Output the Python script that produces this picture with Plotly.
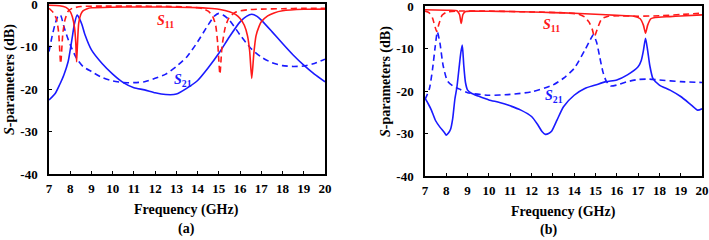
import plotly.graph_objects as go

# ---------------- Data (a) ----------------
a_s21_solid_f = [7.0, 7.3, 7.5, 7.7, 7.9, 8.0, 8.1, 8.2, 8.33, 8.45, 8.55, 8.7, 9.0, 9.5, 10.0, 10.5, 11.0, 11.5, 12.0, 12.5, 13.0, 13.5, 14.0, 14.5, 15.0, 15.5, 16.0, 16.3, 16.55, 16.8, 17.0, 17.5, 18.0, 18.5, 19.0, 19.5, 20.0]
a_s21_solid_db = [-22.6, -21.0, -19.0, -16.7, -13.6, -10.8, -7.7, -4.6, -2.6, -3.6, -4.8, -7.3, -10.8, -14.0, -16.5, -18.5, -19.7, -20.2, -20.9, -21.3, -21.2, -19.8, -18.0, -15.0, -11.6, -7.7, -4.2, -2.9, -2.4, -2.9, -3.8, -6.5, -9.3, -12.0, -14.4, -16.5, -18.3]

a_s21_dash_f = [7.0, 7.15, 7.3, 7.45, 7.55, 7.7, 7.85, 8.0, 8.3, 8.6, 9.0, 9.5, 10.0, 10.5, 11.0, 11.5, 12.0, 12.5, 13.0, 13.5, 14.0, 14.5, 14.8, 15.0, 15.2, 15.5, 16.0, 16.5, 17.0, 17.5, 18.0, 18.5, 19.0, 19.5, 20.0]
a_s21_dash_db = [-11.2, -7.5, -4.5, -2.6, -2.7, -5.3, -7.6, -9.6, -12.8, -14.7, -15.9, -17.3, -18.1, -18.5, -18.5, -18.3, -17.5, -16.5, -14.7, -12.4, -8.9, -4.9, -2.8, -2.2, -2.6, -3.8, -7.3, -10.4, -12.5, -13.8, -14.5, -14.7, -14.6, -14.0, -13.0]

a_s11_solid_f = [7.0, 7.5, 7.8, 8.0, 8.1, 8.2, 8.26, 8.3, 8.34, 8.4, 8.5, 8.6, 8.8, 9.0, 10.0, 11.0, 12.0, 13.0, 14.0, 14.5, 15.0, 15.5, 15.8, 16.0, 16.2, 16.35, 16.45, 16.55, 16.65, 16.75, 16.9, 17.0, 17.3, 17.6, 18.0, 19.0, 20.0]
a_s11_solid_db = [-0.3, -0.4, -0.8, -1.8, -3.0, -5.5, -9.0, -13.6, -9.5, -4.5, -2.4, -1.6, -1.1, -0.9, -0.75, -0.7, -0.7, -0.75, -0.85, -1.0, -1.25, -1.8, -2.5, -3.4, -5.0, -7.5, -11.0, -17.5, -11.5, -7.5, -5.2, -4.2, -2.8, -2.1, -1.6, -1.25, -1.2]

a_s11_dash_f = [7.0, 7.2, 7.35, 7.45, 7.55, 7.65, 7.75, 7.9, 8.1, 8.5, 9.5, 11.0, 12.5, 13.5, 14.0, 14.3, 14.5, 14.7, 14.85, 14.95, 15.05, 15.15, 15.3, 15.45, 15.6, 15.8, 16.0, 16.5, 17.0, 18.0, 19.0, 20.0]
a_s11_dash_db = [-1.0, -2.0, -3.5, -6.5, -14.0, -7.0, -3.8, -1.7, -1.0, -0.6, -0.5, -0.5, -0.55, -0.7, -0.9, -1.2, -1.7, -2.8, -5.0, -9.5, -16.5, -10.0, -5.5, -3.5, -2.6, -1.9, -1.6, -1.3, -1.2, -1.1, -1.0, -1.0]

# ---------------- Data (b) ----------------
b_s11_solid_f = [7.0, 8.0, 8.5, 8.62, 8.7, 8.78, 8.9, 9.2, 10.0, 11.0, 12.0, 13.0, 14.0, 15.0, 16.0, 16.8, 17.1, 17.25, 17.35, 17.45, 17.6, 17.8, 18.5, 19.0, 20.0]
b_s11_solid_db = [-0.9, -1.0, -1.1, -2.0, -4.1, -2.0, -1.3, -1.2, -1.25, -1.3, -1.4, -1.55, -1.7, -1.95, -2.2, -2.4, -3.0, -4.5, -6.4, -4.5, -3.0, -2.7, -2.5, -2.35, -2.1]

b_s11_dash_f = [7.0, 7.2, 7.35, 7.45, 7.55, 7.65, 7.8, 8.0, 8.5, 10.0, 12.0, 13.5, 14.2, 14.5, 14.7, 14.85, 14.95, 15.1, 15.3, 15.6, 16.0, 17.0, 18.0, 19.0, 20.0]
b_s11_dash_db = [-1.2, -1.6, -2.8, -4.5, -6.0, -4.3, -2.2, -1.5, -1.2, -1.2, -1.4, -1.6, -1.9, -2.6, -3.8, -5.5, -7.2, -5.2, -3.0, -2.4, -2.3, -2.4, -2.3, -2.0, -1.7]

b_s21_solid_f = [7.0, 7.15, 7.3, 7.5, 7.7, 7.9, 8.0, 8.1, 8.2, 8.3, 8.4, 8.5, 8.6, 8.68, 8.75, 8.82, 8.9, 9.0, 9.2, 9.5, 10.0, 10.5, 11.0, 11.5, 12.0, 12.3, 12.5, 12.65, 12.8, 12.95, 13.2, 13.5, 14.0, 14.5, 15.0, 15.5, 16.0, 16.5, 17.0, 17.15, 17.25, 17.35, 17.45, 17.55, 17.7, 18.0, 18.5, 19.0, 19.5, 19.8, 20.0]
b_s21_solid_db = [-21.7, -23.0, -24.5, -27.0, -28.5, -29.7, -30.4, -29.9, -29.0, -26.5, -22.0, -19.0, -14.5, -11.0, -9.2, -14.0, -18.0, -19.8, -20.6, -21.2, -22.1, -22.7, -23.5, -24.5, -26.0, -28.0, -29.6, -30.2, -30.0, -29.4, -26.8, -23.7, -21.0, -19.4, -18.6, -17.8, -17.4, -16.2, -14.3, -12.8, -10.5, -7.6, -10.5, -14.0, -17.1, -18.6, -19.8, -21.3, -23.3, -24.5, -24.2]

b_s21_dash_f = [7.0, 7.2, 7.35, 7.48, 7.58, 7.7, 7.85, 8.05, 8.3, 8.6, 9.0, 10.0, 11.0, 12.0, 13.0, 13.5, 14.0, 14.5, 14.75, 14.9, 15.05, 15.2, 15.35, 15.5, 15.7, 16.0, 16.5, 17.0, 17.5, 18.0, 19.0, 20.0]
b_s21_dash_db = [-22.0, -19.6, -15.0, -9.5, -6.1, -8.7, -14.0, -17.6, -18.8, -19.5, -20.4, -21.0, -20.8, -20.2, -18.6, -17.0, -14.7, -10.4, -8.0, -6.8, -8.5, -12.0, -15.5, -17.6, -18.8, -18.6, -17.8, -17.3, -17.2, -17.4, -17.8, -18.0]

x_ticks = list(range(7, 21))
y_ticks = [0, -10, -20, -30, -40]
y_tick_text = ["0", "-10", "-20", "-30", "-40"]

RED = "#ff1a1a"
BLUE = "#1a1aff"
FONT = "Liberation Serif"

fig = go.Figure()


def add(fx, fy, color, dash, xa, ya):
    fig.add_trace(go.Scatter(
        x=fx, y=fy, mode="lines", xaxis=xa, yaxis=ya, showlegend=False,
        line=dict(color=color, width=1.6, dash="6px,4px" if dash else "solid",
                  shape="spline", smoothing=0.6),
        hoverinfo="skip"))


add(a_s21_dash_f, a_s21_dash_db, BLUE, True, "x", "y")
add(a_s21_solid_f, a_s21_solid_db, BLUE, False, "x", "y")
add(a_s11_dash_f, a_s11_dash_db, RED, True, "x", "y")
add(a_s11_solid_f, a_s11_solid_db, RED, False, "x", "y")

add(b_s21_dash_f, b_s21_dash_db, BLUE, True, "x2", "y2")
add(b_s21_solid_f, b_s21_solid_db, BLUE, False, "x2", "y2")
add(b_s11_dash_f, b_s11_dash_db, RED, True, "x2", "y2")
add(b_s11_solid_f, b_s11_solid_db, RED, False, "x2", "y2")

W, H = 709, 240

axis_common = dict(showline=True, linecolor="black", linewidth=1.5, mirror=True,
                   ticks="inside", ticklen=3, tickwidth=1, tickcolor="black",
                   showgrid=False, zeroline=False, automargin=False,
                   ticklabeloverflow="allow",
                   tickfont=dict(family=FONT, size=13, color="black", weight="bold"))

fig.update_layout(
    width=W, height=H, margin=dict(l=0, r=0, t=0, b=0, autoexpand=False),
    paper_bgcolor="white", plot_bgcolor="white",
    xaxis=dict(domain=[49 / W, 325 / W], range=[7, 20], tickvals=x_ticks,
               anchor="y", ticklabelstandoff=2, **axis_common),
    yaxis=dict(domain=[1 - 174 / H, 1 - 4 / H], range=[-40, 0], tickvals=y_ticks,
               ticktext=y_tick_text, anchor="x", ticklabelstandoff=7, **axis_common),
    xaxis2=dict(domain=[425 / W, 702 / W], range=[7, 20], tickvals=x_ticks,
                anchor="y2", ticklabelstandoff=2, **axis_common),
    yaxis2=dict(domain=[1 - 176 / H, 1 - 6 / H], range=[-40, 0], tickvals=y_ticks,
                ticktext=y_tick_text, anchor="x2", ticklabelstandoff=7, **axis_common),
)

ann_font = dict(family=FONT, size=14, color="black")
anns = [
    dict(x=187 / W, y=1 - 210 / H, text="<b>Frequency (GHz)</b>"),
    dict(x=563 / W, y=1 - 212 / H, text="<b>Frequency (GHz)</b>"),
    dict(x=187 / W, y=1 - 229 / H, text="<b>(a)</b>"),
    dict(x=548 / W, y=1 - 230 / H, text="<b>(b)</b>"),
    dict(x=10 / W, y=1 - 80 / H, text="<b><i>S</i>-parameters (dB)</b>", textangle=-90),
    dict(x=386 / W, y=1 - 82 / H, text="<b><i>S</i>-parameters (dB)</b>", textangle=-90),
]
for a in anns:
    fig.add_annotation(xref="paper", yref="paper", showarrow=False,
                       xanchor="center", yanchor="middle", font=ann_font, **a)

labels = [
    ("x", "y", 12.51, -4.2, "<b><i>S</i><sub>11</sub></b>", RED),
    ("x", "y", 13.31, -17.9, "<b><i>S</i><sub>21</sub></b>", BLUE),
    ("x2", "y2", 12.96, -4.5, "<b><i>S</i><sub>11</sub></b>", RED),
    ("x2", "y2", 13.06, -21.4, "<b><i>S</i><sub>21</sub></b>", BLUE),
]
for xr, yr, xv, yv, t, c in labels:
    fig.add_annotation(xref=xr, yref=yr, x=xv, y=yv, text=t, showarrow=False,
                       xanchor="center", yanchor="middle",
                       font=dict(family=FONT, size=14, color=c))

fig.write_html("out.html", config={"displayModeBar": False},
               post_script="document.body.style.margin='0';document.body.style.padding='0';")
